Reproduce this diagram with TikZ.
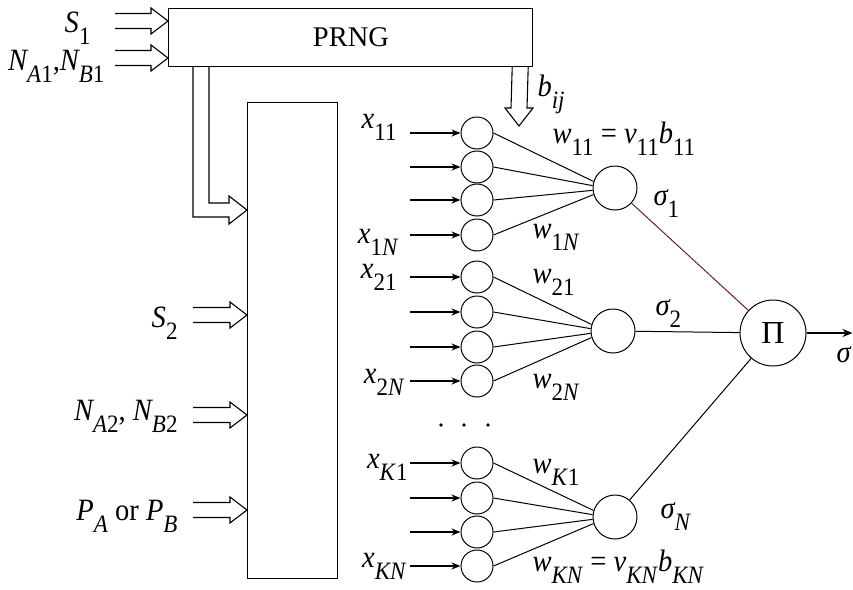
\documentclass[tikz,border=0pt]{standalone}
\usepackage{fontspec}
\setmainfont{Liberation Serif}
\newfontfamily\labfont{Liberation Serif}[FakeStretch=0.92]
\usetikzlibrary{arrows.meta,calc}
\newcommand{\lb}[2]{{\itshape #1}\raisebox{-0.4em}{\fontsize{25}{25}\selectfont #2}}
\definecolor{lred}{RGB}{105,35,35}
\begin{document}
\begin{tikzpicture}[x=1pt,y=-1pt,line width=1pt,
  lab/.style={font=\labfont\fontsize{31}{31}\selectfont, inner sep=0pt},
  boxx/.style={draw, line width=1.2pt, inner sep=0pt},
  neu/.style={draw, circle, minimum size=32pt, inner sep=0pt, line width=1pt},
  sumn/.style={draw, circle, minimum size=44pt, inner sep=0pt, line width=1pt},
  inarr/.style={line width=1.6pt, -{Stealth[length=9pt,width=7pt]}},
  hollow/.style={line width=1.1pt, line join=miter},
  dotn/.style={circle, fill, inner sep=0pt, minimum size=3.8pt},
  pics/harr/.style={code={
    \draw[hollow] (-#1,-7.5) -- (-17,-7.5) -- (-17,-13) -- (0,0) -- (-17,13) -- (-17,7.5) -- (-#1,7.5);
  }}
]
\useasboundingbox (0,0) rectangle (853,589);
\fill[white] (0,0) rectangle (853,589);

% blocks
\node[boxx, minimum width=364pt, minimum height=58pt, anchor=north west] (prng) at (168,8) {};
\node[font=\fontsize{28.5}{28.5}\selectfont, inner sep=0pt] (prngt) at (351,37) {PRNG};
\node[boxx, minimum width=90pt, minimum height=476pt, anchor=north west] (reg) at (247,102) {};

% hollow inputs to PRNG
\coordinate (tp1) at (prng.west |- 0,21);
\coordinate (tp2) at (prng.west |- 0,58);
\pic at (tp1) {harr=53};
\pic at (tp2) {harr=53};
\node[lab, anchor=base east] (ls1) at (91,32) {\lb{S}{1}};
\node[lab, anchor=base east] (lna1) at (105,70) {\lb{N}{\textit{A}1},\lb{N}{\textit{B}1}};

% hollow inputs to register
\coordinate (tr1) at (reg.west |- 0,315);
\coordinate (tr2) at (reg.west |- 0,415);
\coordinate (tr3) at (reg.west |- 0,510);
\pic at (tr1) {harr=54};
\pic at (tr2) {harr=54};
\pic at (tr3) {harr=54};
\node[lab, anchor=base east] (ls2) at (178,327) {\lb{S}{2}};
\node[lab, anchor=base east] (lna2) at (178,420) {\lb{N}{\textit{A}2}, \lb{N}{\textit{B}2}};
\node[lab, anchor=base east] (lpa) at (178,520) {\lb{P}{\textit{A}} or \lb{P}{\textit{B}}};

% L-shaped hollow arrow from PRNG to register
\coordinate (tl) at (reg.west |- 0,210);
\draw[hollow] ($(prng.south west)+(25,0)$) |- ($(tl)+(-18,7)$) -- ($(tl)+(-18,14)$) -- (tl)
  -- ($(tl)+(-18,-14)$) -- ($(tl)+(-18,-7)$) -| ($(prng.south west)+(41,0)$);

% b_ij arrow
\coordinate (tb) at (519,126);
\draw[hollow] ($(prng.south east)+(-21,0)$) -- ($(tb)+(-8,-18)$) -- ($(tb)+(-14,-18)$) -- (tb)
  -- ($(tb)+(14,-18)$) -- ($(tb)+(8,-18)$) -- ($(prng.south east)+(-5,0)$);
\node[lab, anchor=base west] (lbij) at (537,96) {\lb{b}{\textit{ij}}};

% neurons
\foreach \g/\ya/\yb/\yc/\yd in {1/133/167/200/235, 2/277/312/347/381, 3/463/498/532/566}{
  \node[neu] (n\g1) at (477,\ya) {};
  \node[neu] (n\g2) at (477,\yb) {};
  \node[neu] (n\g3) at (477,\yc) {};
  \node[neu] (n\g4) at (477,\yd) {};
  \foreach \k in {1,2,3,4}{
    \coordinate (a\g\k) at (410,0 |- n\g\k);
    \draw[inarr] (a\g\k) -- (n\g\k.west);
  }
}
\node[sumn] (s1) at (615,188) {};
\node[sumn] (s2) at (613,331) {};
\node[sumn] (s3) at (615,517) {};
\foreach \g in {1,2,3}{
  \draw (n\g1.east) -- (s\g.163);
  \draw (n\g2.east) -- (s\g.174);
  \draw (n\g3.east) -- (s\g.186);
  \draw (n\g4.east) -- (s\g.197);
}

% x labels
\node[lab, anchor=base east] (x11) at (397,128) {\lb{x}{11}};
\node[lab, anchor=base east] (x1n) at (399,243) {\lb{x}{1\textit{N}}};
\node[lab, anchor=base east] (x21) at (397,278) {\lb{x}{21}};
\node[lab, anchor=base east] (x2n) at (405,383) {\lb{x}{2\textit{N}}};
\node[lab, anchor=base east] (xk1) at (408,468) {\lb{x}{\textit{K}1}};
\node[lab, anchor=base east] (xkn) at (407,567) {\lb{x}{\textit{KN}}};

% dots
\node[dotn] (d1) at (441,425) {};
\node[dotn] (d2) at (464,425) {};
\node[dotn] (d3) at (488,425) {};

% weights
\node[lab, anchor=base west] (w11) at (552,143) {\lb{w}{11} = \lb{v}{11}\lb{b}{11}};
\node[lab, anchor=base west] (w1n) at (532,238) {\lb{w}{1\textit{N}}};
\node[lab, anchor=base west] (w21) at (532,283) {\lb{w}{21}};
\node[lab, anchor=base west] (w2n) at (532,388) {\lb{w}{2\textit{N}}};
\node[lab, anchor=base west] (wk1) at (532,473) {\lb{w}{\textit{K}1}};
\node[lab, anchor=base west] (wkn) at (532,571) {\lb{w}{\textit{KN}} = \lb{v}{\textit{KN}}\lb{b}{\textit{KN}}};

% product node
\node[draw, circle, minimum size=66pt, inner sep=0pt, line width=1pt,
      font=\fontsize{32}{32}\selectfont] (pi) at (773,333) {Π};
\draw[lred] (s1) -- (pi);
\draw (s2) -- (pi);
\draw (s3) -- (pi);
\node[lab, anchor=base west] (sg1) at (653,205) {\lb{σ}{1}};
\node[lab, anchor=base west] (sg2) at (655,315) {\lb{σ}{2}};
\node[lab, anchor=base west] (sgn) at (660,518) {\lb{σ}{\textit{N}}};

\coordinate (out) at (852.5,333);
\draw[line width=1.4pt, -{Stealth[length=10pt,width=8pt]}] (pi) -- (out);
\node[lab, anchor=base west] (sgo) at (836,362) {\textit{σ}};
\end{tikzpicture}
\end{document}
